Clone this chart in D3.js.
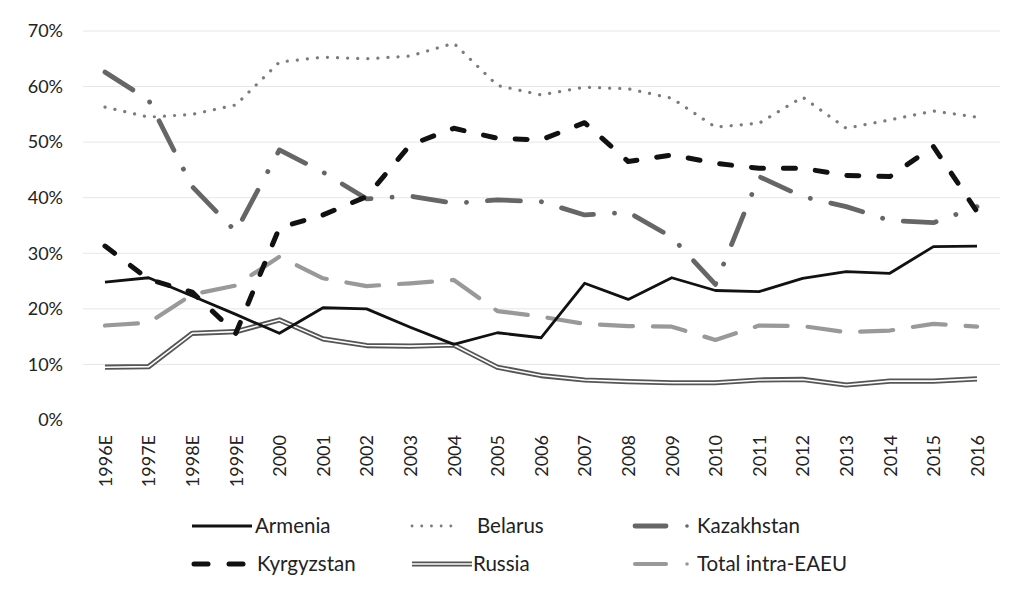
<!DOCTYPE html>
<html><head><meta charset="utf-8">
<script src="https://cdn.jsdelivr.net/npm/d3@7/dist/d3.min.js"></script>
<style>body{margin:0;background:#fff}svg{display:block}</style>
</head><body><svg id="c" width="1022" height="592"></svg>
<script>
const years = ["1996E","1997E","1998E","1999E","2000","2001","2002","2003","2004","2005","2006","2007","2008","2009","2010","2011","2012","2013","2014","2015","2016"];
const armenia    = [24.8,25.6,22.3,19.0,15.6,20.2,20.0,16.7,13.6,15.7,14.8,24.6,21.7,25.6,23.3,23.1,25.5,26.7,26.4,31.2,31.3];
const belarus    = [56.3,54.5,55.0,56.7,64.4,65.3,65.0,65.5,67.8,60.2,58.5,59.9,59.6,57.9,52.7,53.4,58.1,52.5,54.0,55.6,54.5];
const kazakhstan = [62.6,57.6,42.0,33.9,48.6,44.6,39.8,40.3,39.0,39.6,39.3,36.9,37.4,32.9,24.4,43.8,40.2,38.4,35.9,35.5,38.4];
const kyrgyzstan = [31.3,25.3,23.0,15.6,34.6,36.9,40.2,49.5,52.5,50.7,50.4,53.5,46.5,47.7,46.2,45.3,45.3,44.0,43.8,49.2,37.5];
const russia     = [9.5,9.6,15.6,15.9,18.0,14.6,13.4,13.3,13.5,9.5,8.0,7.2,6.9,6.7,6.7,7.2,7.3,6.3,7.0,7.0,7.4];
const total      = [17.0,17.5,22.6,24.2,29.4,25.5,24.1,24.6,25.2,19.6,18.6,17.3,16.9,16.8,14.4,17.0,16.9,15.8,16.1,17.3,16.8];
const yTicks = [0,10,20,30,40,50,60,70];

const series = [
  {name:"Armenia", data:armenia, type:"armenia"},
  {name:"Belarus", data:belarus, type:"belarus"},
  {name:"Kazakhstan", data:kazakhstan, type:"kazakhstan"},
  {name:"Kyrgyzstan", data:kyrgyzstan, type:"kyrgyzstan"},
  {name:"Russia", data:russia, type:"russia"},
  {name:"Total intra-EAEU", data:total, type:"total"}
];
const styles = {
  armenia:[{stroke:"#111",w:2.8,dash:null}],
  belarus:[{stroke:"#7c7c7c",w:3.2,dash:"0.1 10",cap:"round"}],
  kazakhstan:[{stroke:"#666",w:4.8,dash:"33 21 0.1 21",cap:"round"}],
  kyrgyzstan:[{stroke:"#111",w:5,dash:"12 20",cap:"round"}],
  russia:[{stroke:"#555",w:5.2,dash:null},{stroke:"#fff",w:1.6,dash:null}],
  total:[{stroke:"#999",w:4.2,dash:"33 20",cap:"round"}]
};

const svg = d3.select("#c");
const font = "Lato, sans-serif";
const fsAxis = 18;
const fsLeg = 20.5;
const x = d3.scalePoint().domain(years).range([105,977]);
const y = d3.scaleLinear().domain([0,70]).range([420,31]);

// gridlines
svg.append("g").selectAll("line").data(yTicks.slice(1)).join("line")
  .attr("x1",83).attr("x2",1000).attr("y1",d=>y(d)).attr("y2",d=>y(d))
  .attr("stroke","#e6e6e6").attr("stroke-width",1);

// y axis labels
const yAxis = d3.axisLeft(y).tickValues(yTicks).tickFormat(d=>d+"%").tickSize(0).tickPadding(0);
const ya = svg.append("g").attr("transform","translate(63,0)").call(yAxis);
ya.select(".domain").remove();
ya.selectAll("text").attr("font-family",font).attr("font-size",fsAxis).attr("fill","#222");

// x axis labels
const xAxis = d3.axisBottom(x).tickSize(0).tickPadding(0);
const xa = svg.append("g").attr("transform","translate(0,435)").call(xAxis);
xa.select(".domain").remove();
xa.selectAll("text").attr("font-family",font).attr("font-size",fsAxis).attr("fill","#222")
  .attr("text-anchor","end").attr("dy","0.35em").attr("dx",0)
  .attr("transform","rotate(-90)").attr("x",0).attr("y",0);

const line = d3.line().x((d,i)=>x(years[i])).y(d=>y(d));
const order = ["russia","total","armenia","belarus","kazakhstan","kyrgyzstan"];
order.forEach(t=>{
  const s = series.find(s=>s.type===t);
  styles[t].forEach(st=>{
    svg.append("path").datum(s.data).attr("d",line).attr("fill","none")
      .attr("stroke",st.stroke).attr("stroke-width",st.w)
      .attr("stroke-dasharray",st.dash).attr("stroke-linecap",st.cap||"butt")
      .attr("stroke-linejoin","round");
  });
});

// legend
const legend = [
  {x1:192,tx:255,y:526,segs:[[0,60]]},
  {x1:412,x2:460,tx:477,y:526,dots:true},
  {x1:633,tx:697,y:526,segs:[[2,33]],dot:687},
  {x1:192,tx:257,y:564,segs:[[2,16],[37,51]]},
  {x1:412,tx:473,y:564,segs:[[0,60]]},
  {x1:633,tx:697,y:564,segs:[[2,33]],dot:687}
];
series.forEach((s,i)=>{
  const L = legend[i];
  const g = svg.append("g");
  const sts = styles[s.type];
  if (L.dots) {
    g.append("line").attr("x1",L.x1).attr("x2",L.x2).attr("y1",L.y).attr("y2",L.y)
      .attr("stroke",sts[0].stroke).attr("stroke-width",2.8).attr("stroke-dasharray","0.1 9.6").attr("stroke-linecap","round");
  } else {
    sts.forEach(st=>{
      L.segs.forEach(sg=>{
        g.append("line").attr("x1",L.x1+sg[0]).attr("x2",L.x1+sg[1]).attr("y1",L.y).attr("y2",L.y)
          .attr("stroke",st.stroke).attr("stroke-width",st.w).attr("stroke-linecap",st.cap||"butt");
      });
    });
    if (L.dot) g.append("circle").attr("cx",L.dot).attr("cy",L.y).attr("r",1.8).attr("fill",sts[0].stroke);
  }
  g.append("text").attr("x",L.tx).attr("y",L.y).attr("dy","0.35em")
    .attr("font-family",font).attr("font-size",fsLeg).attr("fill","#222").text(s.name);
});
</script></body></html>
